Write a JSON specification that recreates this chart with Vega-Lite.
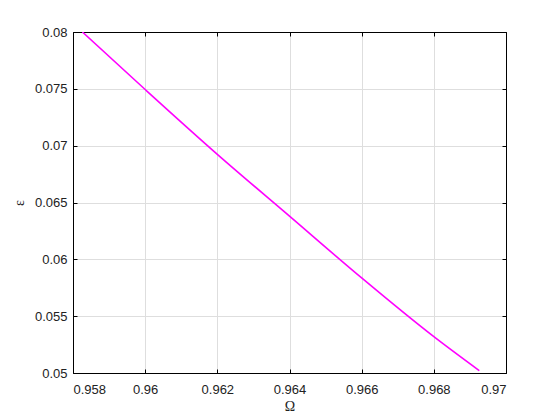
{
  "$schema": "https://vega.github.io/schema/vega-lite/v6.json",
  "autosize": "none",
  "width": 433,
  "height": 341,
  "padding": {"left": 73, "top": 32, "right": 54, "bottom": 47},
  "background": "white",
  "config": {
    "view": {"stroke": "black", "strokeWidth": 1},
    "axis": {
      "domainColor": "black",
      "domainWidth": 1,
      "tickColor": "black",
      "tickWidth": 1,
      "gridColor": "#dedede",
      "gridWidth": 1,
      "labelFont": "Liberation Sans",
      "labelFontSize": 13,
      "labelColor": "#222222",
      "titleFont": "Liberation Serif",
      "titleFontWeight": "normal",
      "titleFontSize": 14,
      "titleColor": "#222222"
    }
  },
  "data": {
    "values": [
      {"omega": 0.95826, "eps": 0.08},
      {"omega": 0.96, "eps": 0.07494},
      {"omega": 0.962, "eps": 0.06924},
      {"omega": 0.964, "eps": 0.0638},
      {"omega": 0.966, "eps": 0.05836},
      {"omega": 0.968, "eps": 0.05319},
      {"omega": 0.96926, "eps": 0.0502}
    ]
  },
  "layer": [
    {
      "mark": {"type": "line", "color": "#ff00ff", "strokeWidth": 1.6, "clip": true, "interpolate": "monotone"},
      "encoding": {
        "x": {
          "field": "omega", "type": "quantitative",
          "scale": {"domain": [0.958, 0.97], "nice": false, "zero": false},
          "axis": {
            "orient": "bottom", "title": "Ω",
            "values": [0.958, 0.96, 0.962, 0.964, 0.966, 0.968, 0.97],
            "format": ".3~f", "tickSize": -4, "labelPadding": 14,
            "grid": true, "titlePadding": 3
          }
        },
        "y": {
          "field": "eps", "type": "quantitative",
          "scale": {"domain": [0.05, 0.08], "nice": false, "zero": false},
          "axis": {
            "orient": "left", "title": "ε",
            "values": [0.05, 0.055, 0.06, 0.065, 0.07, 0.075, 0.08],
            "format": ".3~f", "tickSize": -4, "labelPadding": 10,
            "grid": true, "titlePadding": 8, "labelBaseline": "middle"
          }
        }
      }
    },
    {
      "mark": {"type": "line", "opacity": 0},
      "encoding": {
        "x": {
          "field": "omega", "type": "quantitative",
          "scale": {"domain": [0.958, 0.97], "nice": false, "zero": false},
          "axis": {
            "orient": "top", "title": null, "labels": false,
            "values": [0.958, 0.96, 0.962, 0.964, 0.966, 0.968, 0.97],
            "tickSize": -4, "grid": false
          }
        },
        "y": {
          "field": "eps", "type": "quantitative",
          "scale": {"domain": [0.05, 0.08], "nice": false, "zero": false},
          "axis": {
            "orient": "right", "title": null, "labels": false,
            "values": [0.05, 0.055, 0.06, 0.065, 0.07, 0.075, 0.08],
            "tickSize": -4, "grid": false
          }
        }
      }
    }
  ],
  "resolve": {"axis": {"x": "independent", "y": "independent"}}
}
